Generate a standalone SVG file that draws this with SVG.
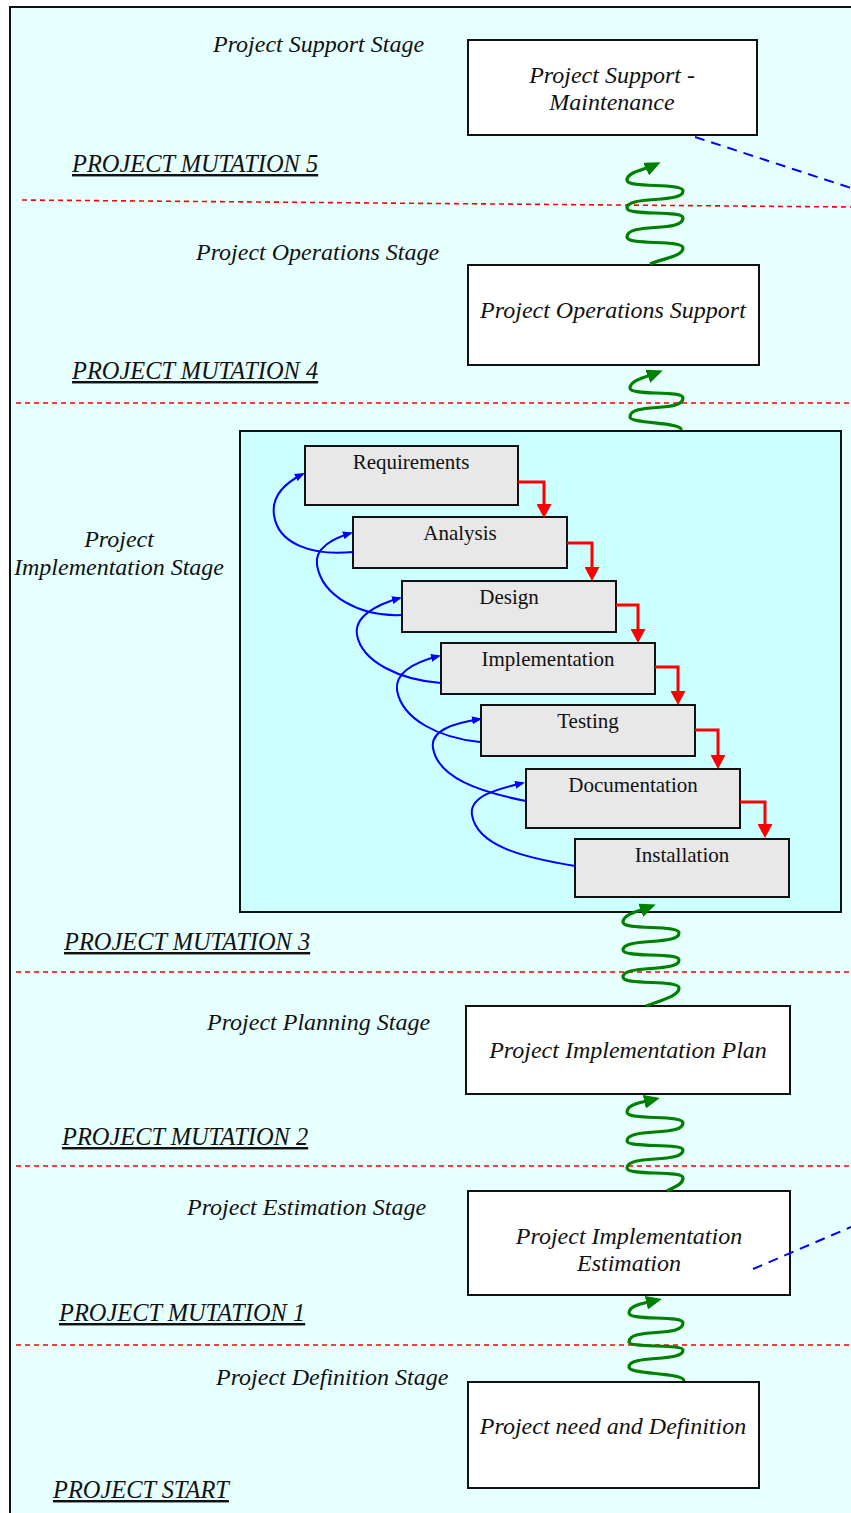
<svg xmlns="http://www.w3.org/2000/svg" width="851" height="1513" viewBox="0 0 851 1513">
<style>
.lbl{font-family:"Liberation Serif","Times New Roman",serif;font-style:italic;font-size:24px;fill:#111}
.mut{font-family:"Liberation Serif","Times New Roman",serif;font-style:italic;font-size:24.4px;fill:#111;text-decoration:underline}
.bt{font-family:"Liberation Serif","Times New Roman",serif;font-style:italic;font-size:24px;fill:#111;text-anchor:middle}
.wt{font-family:"Liberation Serif","Times New Roman",serif;font-size:21px;fill:#111;text-anchor:middle}
.box{fill:#fff;stroke:#111;stroke-width:2}
.wbox{fill:#e8e8e8;stroke:#111;stroke-width:2}
.sep{stroke:#ff0000;stroke-width:1.6;stroke-dasharray:5,4;fill:none}
.bdash{stroke:#0000ff;stroke-width:2;stroke-dasharray:10,7;fill:none}
.wave{stroke:#008000;stroke-width:3.2;fill:none;marker-end:url(#ga)}
.red{stroke:#ff0000;stroke-width:3;fill:none;marker-end:url(#ra)}
.blue{stroke:#0000ff;stroke-width:2;fill:none;marker-end:url(#ba)}
</style>
<defs>
<marker id="ga" markerUnits="userSpaceOnUse" markerWidth="16" markerHeight="14" viewBox="0 0 16 14" refX="12" refY="7" orient="auto"><path d="M0,0 L16,7 L0,14 z" fill="#008000"/></marker>
<marker id="ra" markerUnits="userSpaceOnUse" markerWidth="14" markerHeight="15" viewBox="0 0 14 15" refX="10" refY="7.5" orient="auto"><path d="M0,0 L14,7.5 L0,15 z" fill="#ff0000"/></marker>
<marker id="ba" markerUnits="userSpaceOnUse" markerWidth="10" markerHeight="8" viewBox="0 0 10 8" refX="8" refY="4" orient="auto"><path d="M0,0 L10,4 L0,8 z" fill="#0000ff"/></marker>
</defs>
<rect x="0" y="0" width="851" height="1513" fill="#fff"/>
<rect id="frame" x="10" y="7" width="900" height="1600" fill="#e6ffff" stroke="#111" stroke-width="2"/>

<g id="labels">
<text class="lbl" x="213" y="52">Project Support Stage</text>
<text class="mut" x="72" y="172">PROJECT MUTATION 5</text>
<text class="lbl" x="196" y="260">Project Operations Stage</text>
<text class="mut" x="72" y="379">PROJECT MUTATION 4</text>
<text class="lbl" x="119" y="547" text-anchor="middle">Project</text>
<text class="lbl" x="119" y="575" text-anchor="middle">Implementation Stage</text>
<text class="mut" x="64" y="950">PROJECT MUTATION 3</text>
<text class="lbl" x="207" y="1030">Project Planning Stage</text>
<text class="mut" x="62" y="1145">PROJECT MUTATION 2</text>
<text class="lbl" x="187" y="1215">Project Estimation Stage</text>
<text class="mut" x="59" y="1321">PROJECT MUTATION 1</text>
<text class="lbl" x="216" y="1385">Project Definition Stage</text>
<text class="mut" x="53" y="1498">PROJECT START</text>
</g>

<g id="separators">
<line class="sep" x1="22" y1="200" x2="851" y2="207"/>
<line class="sep" x1="16" y1="403" x2="851" y2="403"/>
<line class="sep" x1="16" y1="972" x2="851" y2="972"/>
<line class="sep" x1="16" y1="1166" x2="851" y2="1166"/>
<line class="sep" x1="16" y1="1345" x2="851" y2="1345"/>
</g>

<g id="node-support">
<rect class="box" x="468" y="40" width="289" height="95"/>
<text class="bt" x="612" y="83">Project Support -</text>
<text class="bt" x="612" y="110">Maintenance</text>
</g>
<g id="node-operations">
<rect class="box" x="468" y="265" width="291" height="100"/>
<text class="bt" x="613" y="318">Project Operations Support</text>
</g>

<g id="node-implementation-stage">
<rect x="240" y="431" width="601" height="481" fill="#ccffff" stroke="#111" stroke-width="2"/>
</g>
<g id="node-requirements"><rect class="wbox" x="305" y="446" width="213" height="59"/><text class="wt" x="411" y="469">Requirements</text></g>
<g id="node-analysis"><rect class="wbox" x="353" y="517" width="214" height="51"/><text class="wt" x="460" y="540">Analysis</text></g>
<g id="node-design"><rect class="wbox" x="402" y="581" width="214" height="51"/><text class="wt" x="509" y="604">Design</text></g>
<g id="node-implementation"><rect class="wbox" x="441" y="643" width="214" height="51"/><text class="wt" x="548" y="666">Implementation</text></g>
<g id="node-testing"><rect class="wbox" x="481" y="705" width="214" height="51"/><text class="wt" x="588" y="728">Testing</text></g>
<g id="node-documentation"><rect class="wbox" x="526" y="769" width="214" height="59"/><text class="wt" x="633" y="792">Documentation</text></g>
<g id="node-installation"><rect class="wbox" x="575" y="839" width="214" height="58"/><text class="wt" x="682" y="862">Installation</text></g>

<g id="node-plan">
<rect class="box" x="466" y="1006" width="324" height="88"/>
<text class="bt" x="628" y="1058">Project Implementation Plan</text>
</g>
<g id="node-estimation">
<rect class="box" x="468" y="1191" width="322" height="104"/>
<text class="bt" x="629" y="1244">Project Implementation</text>
<text class="bt" x="629" y="1271">Estimation</text>
</g>
<g id="node-definition">
<rect class="box" x="468" y="1382" width="291" height="106"/>
<text class="bt" x="613" y="1434">Project need and Definition</text>
</g>

<g id="connectors">
<line class="bdash" x1="695" y1="137" x2="851" y2="188"/>
<line class="bdash" x1="753" y1="1269" x2="851" y2="1227"/>

<path class="wave" d="M650,264 C665,258 683,256 683,248 C683,239 627,246 627,237 C627,222 683,233 683,218 C683,210 627,216 627,208 C627,195 683,204 683,191 C683,182 627,189 627,180 C627,172 644,170 657,164"/>
<path class="wave" d="M681,430 C683,422 630,424 630,417 C630,402 683,413 683,398 C683,390 630,396 630,388 C630,380 646,377 659,372"/>
<path class="wave" d="M646,1006 C662,1000 679,996 679,988 C679,979 623,986 623,977 C623,964 679,973 679,960 C679,952 623,958 623,950 C623,937 679,946 679,933 C679,924 623,931 623,922 C623,914 639,911 652,906"/>
<path class="wave" d="M667,1191 C676,1186 683,1184 683,1178 C683,1170 627,1176 627,1168 C627,1154 683,1164 683,1150 C683,1143 627,1148 627,1141 C627,1127 683,1137 683,1123 C683,1114 627,1121 627,1112 C627,1104 643,1102 656,1099"/>
<path class="wave" d="M684,1381 C684,1372 629,1375 629,1367 C629,1354 683,1363 683,1350 C683,1344 629,1348 629,1342 C629,1327 683,1338 683,1323 C683,1315 629,1321 629,1313 C629,1305 645,1303 658,1300"/>

<path class="red" d="M518,482 H544 V514"/>
<path class="red" d="M567,543 H592 V577"/>
<path class="red" d="M616,605 H638 V639"/>
<path class="red" d="M655,667 H678 V701"/>
<path class="red" d="M695,730 H718 V765"/>
<path class="red" d="M740,802 H765 V834"/>

<path class="blue" d="M353,552 C312,556 278,544 274,515 C271,494 287,482 303,474"/>
<path class="blue" d="M402,615 C360,617 322,596 317,565 C314,548 334,538 351,533"/>
<path class="blue" d="M441,683 C400,680 362,662 357,635 C354,617 375,605 400,598"/>
<path class="blue" d="M480,742 C440,738 402,720 397,690 C395,672 415,662 439,656"/>
<path class="blue" d="M526,801 C480,792 438,778 433,748 C430,730 455,723 480,719"/>
<path class="blue" d="M575,866 C520,857 477,845 472,815 C469,796 497,789 523,783"/>
</g>
</svg>
